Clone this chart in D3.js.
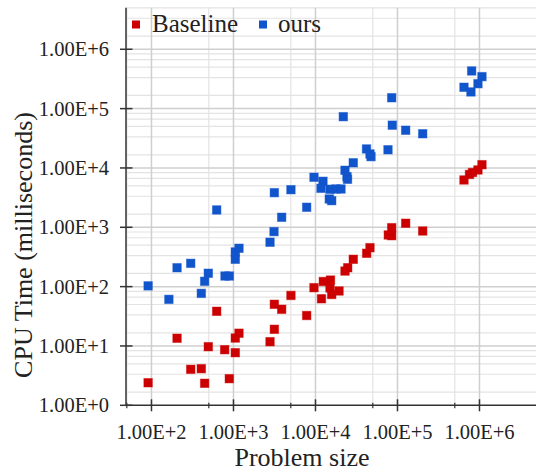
<!DOCTYPE html>
<html>
<head>
<meta charset="utf-8">
<script src="https://cdn.jsdelivr.net/npm/d3@7"></script>
<style>
  html, body { margin: 0; padding: 0; background: #fff; }
  svg { display: block; }
  svg text { font-family: "Liberation Serif", "Times New Roman", serif; }
</style>
</head>
<body>
<svg id="chart" width="536" height="472"></svg>
<script>
// ---- data ----
const seriesNames = ["Baseline", "ours"];
const seriesColors = ["#cc0000", "#1155cc"];

const baselineSize = [91, 205, 301, 405, 445, 493, 624, 781, 889, 1052, 1052, 1167,
  2790, 3150, 3150, 3870, 5020, 7810, 9590, 11830, 12450, 15240, 15030, 15770, 19370,
  22900, 24720, 28890, 42100, 46200, 77300, 85000, 85000, 125900, 203000,
  647000, 755000, 822000, 958000, 1072000];
const baselineTime = [2.40, 13.5, 4.04, 4.14, 2.35, 9.72, 38.4, 8.65, 2.81, 7.70, 13.6, 16.4,
  11.8, 19.1, 50.4, 41.5, 71, 32.6, 96, 62.4, 122, 129, 95, 73.7, 84.4,
  183, 208, 289, 365, 453, 742, 722, 985, 1170, 866,
  6270, 7770, 8390, 9250, 11350];

const oursSize = [91, 163, 205, 301, 405, 445, 493, 788, 889, 1052, 1052, 1167, 624,
  2790, 3120, 3870, 3150, 5020, 7810, 9590, 12340, 11670, 15030, 17780, 20460, 14730, 15770,
  22900, 24220, 24560, 28890, 21830, 41900, 46200, 47550, 76600, 85000, 86400, 125900, 203000,
  803000, 1072000, 958000, 647000, 787000];
const oursTime = [103, 61, 208, 247, 77, 123, 168, 151, 151, 289, 384, 443, 1960,
  560, 845, 1475, 3830, 4300, 2175, 6970, 5960, 4540, 4370, 4420, 4420, 3000, 2810,
  9140, 7130, 6440, 12220, 73100, 20900, 17200, 15500, 20250, 152400, 52600, 43200, 37700,
  431000, 346000, 263000, 229000, 191000];

const xTickValues = [1e2, 1e3, 1e4, 1e5, 1e6];
const xTickLabels = ["1.00E+2", "1.00E+3", "1.00E+4", "1.00E+5", "1.00E+6"];
const yTickValues = [1, 1e1, 1e2, 1e3, 1e4, 1e5, 1e6];
const yTickLabels = ["1.00E+0", "1.00E+1", "1.00E+2", "1.00E+3", "1.00E+4", "1.00E+5", "1.00E+6"];

const xTitle = "Problem size";
const yTitle = "CPU Time (milliseconds)";

// ---- layout ----
const svg = d3.select("#chart");
const xDomain = [50, 5e6];
const yDomain = [1, 5e6];
const x = d3.scaleLog().domain(xDomain).range([126.8, 536.8]);
const y = d3.scaleLog().domain(yDomain).range([405.3, 7.8]);

const plotLeft = x(xDomain[0]), plotRight = 536;
const plotTop = y(yDomain[1]), plotBottom = y(yDomain[0]);

// minor grid values
const xMinor = [];
for (let e = 1; e <= 6; e++) xMinor.push(5 * Math.pow(10, e));
const yMinor = [];
for (let e = 0; e <= 6; e++) for (let k = 1; k <= 5; k++) {
  const v = k / 6 * Math.pow(10, e + 1);
  if (v <= yDomain[1] * 1.0001) yMinor.push(v);
}

const grid = svg.append("g");
grid.selectAll("line.ymin").data(yMinor).join("line")
  .attr("x1", plotLeft).attr("x2", plotRight)
  .attr("y1", d => y(d)).attr("y2", d => y(d))
  .attr("stroke", "#e3e3e3").attr("stroke-width", 1.2);
grid.selectAll("line.xmin").data(xMinor).join("line")
  .attr("x1", d => x(d)).attr("x2", d => x(d))
  .attr("y1", plotTop).attr("y2", plotBottom)
  .attr("stroke", "#e3e3e3").attr("stroke-width", 1.2);
grid.selectAll("line.ymaj").data(yTickValues.slice(1)).join("line")
  .attr("x1", plotLeft).attr("x2", plotRight)
  .attr("y1", d => y(d)).attr("y2", d => y(d))
  .attr("stroke", "#cfcfcf").attr("stroke-width", 1.5);
grid.selectAll("line.xmaj").data(xTickValues).join("line")
  .attr("x1", d => x(d)).attr("x2", d => x(d))
  .attr("y1", plotTop).attr("y2", plotBottom)
  .attr("stroke", "#cfcfcf").attr("stroke-width", 1.5);

// ---- axes ----
const axisColor = "#333";
const serif = "'Liberation Serif', 'Times New Roman', serif";
const xAxis = svg.append("g").attr("transform", `translate(0,${plotBottom})`);
xAxis.append("line").attr("x1", plotLeft).attr("x2", plotRight).attr("y1", 0).attr("y2", 0)
  .attr("stroke", axisColor).attr("stroke-width", 1.5);
xAxis.selectAll("line.tick").data(xTickValues).join("line")
  .attr("x1", d => x(d)).attr("x2", d => x(d)).attr("y1", -6).attr("y2", 6)
  .attr("stroke", axisColor).attr("stroke-width", 1.5);
xAxis.selectAll("line.mtick").data(xMinor.filter(v => x(v) < plotRight)).join("line")
  .attr("x1", d => x(d)).attr("x2", d => x(d)).attr("y1", -2.5).attr("y2", 3)
  .attr("stroke", axisColor).attr("stroke-width", 1.2);
xAxis.selectAll("text").data(xTickValues).join("text")
  .attr("x", d => x(d)).attr("y", 34)
  .attr("text-anchor", "middle").attr("font-family", serif).attr("font-size", "20.5px").attr("fill", "#222")
  .text((d, i) => xTickLabels[i]);

const yAxis = svg.append("g").attr("transform", `translate(${plotLeft - 0.8},0)`);
yAxis.append("line").attr("x1", 0).attr("x2", 0).attr("y1", plotTop).attr("y2", plotBottom)
  .attr("stroke", axisColor).attr("stroke-width", 1.5);
yAxis.selectAll("line.tick").data(yTickValues).join("line")
  .attr("x1", -6).attr("x2", 6.5).attr("y1", d => y(d)).attr("y2", d => y(d))
  .attr("stroke", axisColor).attr("stroke-width", 1.5);
yAxis.selectAll("text").data(yTickValues).join("text")
  .attr("x", -17).attr("y", d => y(d)).attr("dy", "0.35em")
  .attr("text-anchor", "end").attr("font-family", serif).attr("font-size", "20.5px").attr("fill", "#222")
  .text((d, i) => yTickLabels[i]);

// titles
svg.append("text").attr("x", 302).attr("y", 465.5).attr("text-anchor", "middle")
  .attr("font-family", serif).attr("font-size", "26px").attr("fill", "#222").text(xTitle);
svg.append("text").attr("transform", "translate(32,245) rotate(-90)")
  .attr("text-anchor", "middle").attr("font-family", serif).attr("font-size", "26px").attr("fill", "#222").text(yTitle);

// ---- points ----
const ms = 8.5;
function drawSeries(sizes, times, color) {
  svg.append("g").selectAll("rect").data(sizes.map((s, i) => [s, times[i]])).join("rect")
    .attr("x", d => x(d[0]) - ms / 2).attr("y", d => y(d[1]) - ms / 2)
    .attr("width", ms).attr("height", ms)
    .attr("fill", color).attr("stroke", color).attr("stroke-opacity", 0.45).attr("stroke-width", 1);
}
drawSeries(baselineSize, baselineTime, seriesColors[0]);
drawSeries(oursSize, oursTime, seriesColors[1]);

// ---- legend ----
const legendItems = [
  { name: seriesNames[0], color: seriesColors[0], sx: 136, tx: 152 },
  { name: seriesNames[1], color: seriesColors[1], sx: 263, tx: 278 }
];
const lg = svg.append("g");
legendItems.forEach(it => {
  lg.append("rect").attr("x", it.sx - 4).attr("y", 20.5).attr("width", 8).attr("height", 8)
    .attr("fill", it.color);
  lg.append("text").attr("x", it.tx).attr("y", 31.5).attr("font-family", serif).attr("font-size", "25px")
    .attr("fill", "#222").text(it.name);
});
</script>
</body>
</html>
